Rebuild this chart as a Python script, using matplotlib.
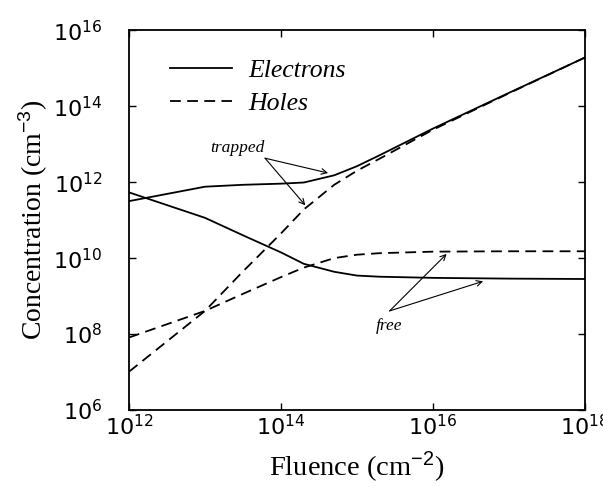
import matplotlib
matplotlib.use('Agg')
import matplotlib.pyplot as plt
import numpy as np

plt.rcParams['mathtext.fontset'] = 'custom'
plt.rcParams['mathtext.rm'] = 'Liberation Sans'
plt.rcParams['mathtext.it'] = 'Liberation Sans:italic'

# Fluence (log10 cm^-2) and concentrations (log10 cm^-3)
fluence_log = [12.0, 13.0, 13.5, 14.0, 14.3, 14.7, 15.0, 15.3, 16.0, 17.0, 18.0]

e_trapped_log = [11.50, 11.88, 11.93, 11.96, 11.99, 12.18, 12.42, 12.71, 13.41, 14.35, 15.28]
h_trapped_log = [7.01, 8.61, 9.65, 10.65, 11.28, 11.93, 12.30, 12.62, 13.38, 14.34, 15.28]
e_free_log = [11.73, 11.06, 10.60, 10.15, 9.85, 9.64, 9.54, 9.51, 9.48, 9.46, 9.45]
h_free_log = [7.91, 8.61, 9.06, 9.50, 9.75, 10.00, 10.09, 10.13, 10.17, 10.18, 10.18]

fluence = 10.0 ** np.array(fluence_log)
e_trapped = 10.0 ** np.array(e_trapped_log)
h_trapped = 10.0 ** np.array(h_trapped_log)
e_free = 10.0 ** np.array(e_free_log)
h_free = 10.0 ** np.array(h_free_log)

fig = plt.figure(figsize=(6.03, 4.87), dpi=100)
ax = fig.add_axes([0.214, 0.158, 0.756, 0.780])

lw = 1.3
dash = (6, 3.5)
ax.plot(fluence, e_trapped, 'k-', lw=lw, label='Electrons')
ax.plot(fluence, h_trapped, 'k--', lw=lw, dashes=dash, label='Holes')
ax.plot(fluence, e_free, 'k-', lw=lw)
ax.plot(fluence, h_free, 'k--', lw=lw, dashes=dash)

ax.set_xscale('log')
ax.set_yscale('log')
ax.set_xlim(1e12, 1e18)
ax.set_ylim(1e6, 1e16)

xticks = [1e12, 1e14, 1e16, 1e18]
yticks = [1e6, 1e8, 1e10, 1e12, 1e14, 1e16]
ax.set_xticks(xticks)
ax.set_yticks(yticks)
ax.set_xticklabels([r'$\mathregular{10^{%d}}$' % np.log10(t) for t in xticks])
ax.set_yticklabels([r'$\mathregular{10^{%d}}$' % np.log10(t) for t in yticks])
ax.minorticks_off()
ax.tick_params(direction='in', length=5, width=1.0, top=True, right=True,
               labelsize=16)
ax.tick_params(axis='y', pad=19)
ax.tick_params(axis='x', pad=3)
for s in ax.spines.values():
    s.set_linewidth(1.3)

ax.set_xlabel(r'Fluence (cm$^{-2}$)', family='Liberation Serif', fontsize=20.5, labelpad=7)
ax.set_ylabel(r'Concentration (cm$^{-3}$)', family='Liberation Serif', fontsize=20, labelpad=2)

leg = ax.legend(loc='upper left', bbox_to_anchor=(0.04, 0.985), frameon=False,
                handlelength=2.4, handletextpad=0.62, labelspacing=0.4,
                prop={'family': 'Liberation Serif', 'style': 'italic', 'size': 18.5})

arrow = dict(arrowstyle='->', lw=0.8, color='k', shrinkA=0, shrinkB=0)
ax.text(10**13.42, 10**12.89, 'trapped', family='Liberation Serif', style='italic',
        fontsize=12.5, ha='center', va='center')
ax.annotate('', xy=(10**14.62, 10**12.24), xytext=(10**13.79, 10**12.63), arrowprops=arrow)
ax.annotate('', xy=(10**14.32, 10**11.39), xytext=(10**13.79, 10**12.63), arrowprops=arrow)

ax.text(10**15.42, 10**8.21, 'free', family='Liberation Serif', style='italic',
        fontsize=12.5, ha='center', va='center')
ax.annotate('', xy=(10**16.18, 10**10.11), xytext=(10**15.43, 10**8.61), arrowprops=arrow)
ax.annotate('', xy=(10**16.66, 10**9.39), xytext=(10**15.43, 10**8.61), arrowprops=arrow)

fig.savefig('out.png', dpi=100)
